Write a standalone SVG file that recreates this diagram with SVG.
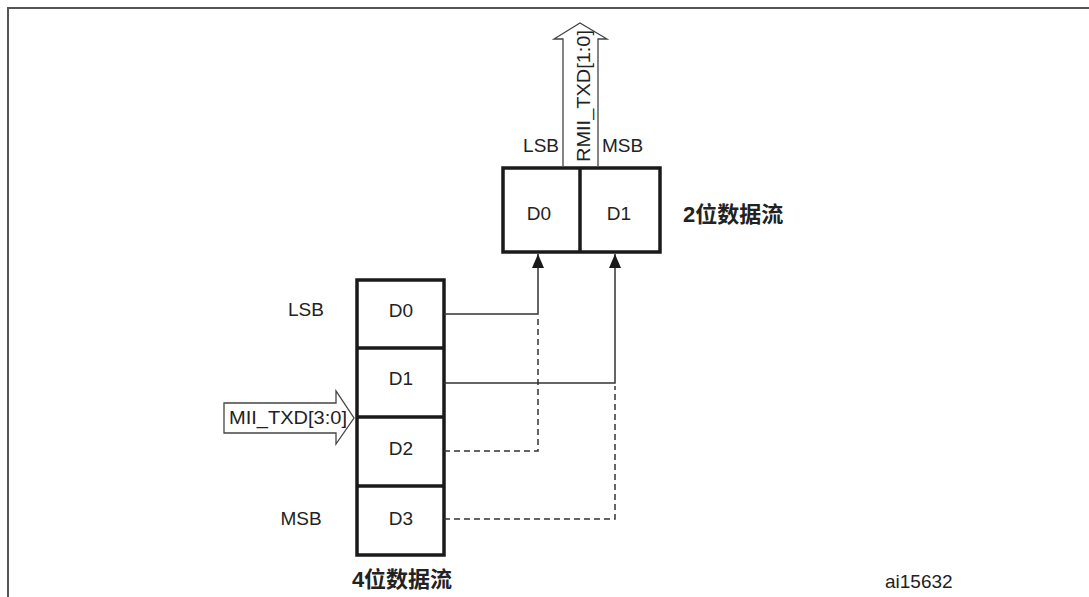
<svg xmlns="http://www.w3.org/2000/svg" width="1089" height="597" viewBox="0 0 1089 597">
<style>
.t{font-family:"Liberation Sans",Arial,sans-serif;font-size:19px;fill:#222}
.b{font-family:"Liberation Sans","Noto Sans CJK SC",sans-serif;font-size:22px;font-weight:bold;fill:#222}
.box{fill:#fff;stroke:#1a1a1a;stroke-width:3.5}
.ln{fill:none;stroke:#333;stroke-width:1.5}
.dl{fill:none;stroke:#333;stroke-width:1.5;stroke-dasharray:6 4}
.ar{fill:#fff;stroke:#444;stroke-width:1.3}
</style>
<defs>
<marker id="ah" viewBox="0 0 14 12" refX="14" refY="6" markerWidth="14" markerHeight="12" markerUnits="userSpaceOnUse" orient="auto">
<path d="M0,0 L14,6 L0,12 z" fill="#1a1a1a"/>
</marker>
</defs>
<rect width="1089" height="597" fill="#fff"/>
<path d="M8,597 V8 H1089" fill="none" stroke="#555" stroke-width="2"/>
<g id="four-bit">
<rect class="box" x="357" y="280" width="87" height="275"/>
<line class="box" x1="357" y1="348" x2="444" y2="348"/>
<line class="box" x1="357" y1="417" x2="444" y2="417"/>
<line class="box" x1="357" y1="486" x2="444" y2="486"/>
<text class="t" x="401" y="317" text-anchor="middle">D0</text>
<text class="t" x="401" y="385" text-anchor="middle">D1</text>
<text class="t" x="401" y="455" text-anchor="middle">D2</text>
<text class="t" x="401" y="525" text-anchor="middle">D3</text>
<text class="t" x="306" y="316" text-anchor="middle">LSB</text>
<text class="t" x="301" y="525" text-anchor="middle">MSB</text>
<text class="b" x="402" y="587" text-anchor="middle">4位数据流</text>
</g>
<g id="mii-arrow">
<path class="ar" d="M224,403 H336 V391 L354,418 L336,444 V433 H224 Z"/>
<text class="t" x="229" y="424" textLength="118" lengthAdjust="spacingAndGlyphs">MII_TXD[3:0]</text>
</g>
<g id="two-bit">
<rect class="box" x="503" y="168" width="157" height="84"/>
<line class="box" x1="580" y1="168" x2="580" y2="252"/>
<text class="t" x="539" y="220" text-anchor="middle">D0</text>
<text class="t" x="619" y="220" text-anchor="middle">D1</text>
<text class="t" x="559" y="152" text-anchor="end">LSB</text>
<text class="t" x="602" y="152">MSB</text>
<text class="b" x="683" y="222">2位数据流</text>
</g>
<g id="rmii-arrow">
<path class="ar" d="M563,166 V39 H554 L580,23 L607,39 H598 V166"/>
<text class="t" transform="translate(590,162) rotate(-90)" textLength="132" lengthAdjust="spacingAndGlyphs">RMII_TXD[1:0]</text>
</g>
<g id="connectors">
<path class="ln" d="M444,314 H538 V254" marker-end="url(#ah)"/>
<path class="ln" d="M444,383 H615 V254" marker-end="url(#ah)"/>
<path class="dl" d="M444,451 H538 V316"/>
<path class="dl" d="M444,519 H615 V386"/>
</g>
<text class="t" x="885" y="588" font-size="15">ai15632</text>
</svg>
